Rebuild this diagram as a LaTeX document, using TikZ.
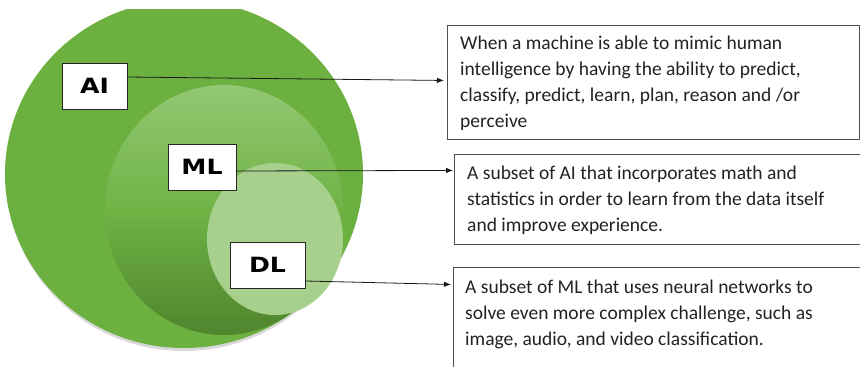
\documentclass[tikz,border=0pt]{standalone}
\usepackage{fontspec}
\setmainfont{Carlito}
\newfontfamily\tagfont{DejaVu Sans}
\usetikzlibrary{arrows.meta,calc}

\definecolor{aigreen}{HTML}{6CB140}
\definecolor{mltop}{HTML}{93C773}
\definecolor{mlbottom}{HTML}{4F842D}
\definecolor{dlgreen}{HTML}{A7D08D}
\definecolor{boxline}{HTML}{505050}
\definecolor{bodytext}{HTML}{222222}

\newcommand{\widetag}[1]{\scalebox{1.2}[1]{#1}}

\tikzset{
  tagbox/.style={draw=black!85, fill=white, line width=0.9pt, inner sep=0pt,
    minimum height=46pt, font=\tagfont\bfseries\fontsize{21pt}{24pt}\selectfont},
  descbox/.style={draw=boxline, line width=0.9pt, inner sep=0pt, anchor=north west},
  desctext/.style={anchor=north west, inner sep=0pt, align=left, text=bodytext,
    font=\fontsize{19.5pt}{26pt}\selectfont},
  pointer/.style={draw=black!90, line width=0.8pt,
    -{Latex[length=7pt,width=5.5pt]}}
}

\begin{document}
\begin{tikzpicture}[x=1pt,y=-1pt]
\useasboundingbox (0,0) rectangle (860,367);

% nested sets: AI, ML, DL
\begin{scope}
  \clip (0,9) rectangle (860,367);
  \fill[black!30, opacity=0.5] (184,177) ellipse [x radius=178, y radius=174];
  \fill[aigreen] (184,174) ellipse [x radius=179, y radius=174];
\end{scope}
\shade[top color=mltop, bottom color=mlbottom, middle color=aigreen!90!mltop]
  (224,210) ellipse [x radius=119, y radius=125];
\fill[dlgreen] (275,239) ellipse [x radius=68, y radius=76];

% labels on the sets
\node[tagbox, minimum width=65pt] (ai) at (94.5,86) {\widetag{AI}};
\node[tagbox, minimum width=68pt] (ml) at (202,167) {\widetag{ML}};
\node[tagbox, minimum width=75pt] (dl) at (267.5,265) {\widetag{DL}};

% description boxes
\node[descbox, minimum width=412pt, minimum height=114pt] (d1) at (447,25) {};
\node[descbox, minimum width=410pt, minimum height=90pt] (d2) at (454,154) {};
\node[descbox, minimum width=410pt, minimum height=110pt] (d3) at (453,267) {};

\node[desctext] (t1) at (460,36) {When a machine is able to mimic human\\
  intelligence by having the ability to predict,\\
  classify, predict, learn, plan, reason and /or\\
  perceive};
\node[desctext] (t2) at (467,166) {A subset of AI that incorporates math and\\
  statistics in order to learn from the data itself\\
  and improve experience.};
\node[desctext] (t3) at (465,280) {A subset of ML that uses neural networks to\\
  solve even more complex challenge, such as\\
  image, audio, and video classification.};

% connectors
\draw[pointer] ([yshift=9pt]ai.east) -- ([xshift=-3pt,yshift=2pt]d1.west);
\draw[pointer] ([yshift=-4pt]ml.east) -- ([xshift=-1pt,yshift=29pt]d2.west);
\draw[pointer] ([yshift=-16pt]dl.east) -- ([xshift=-2pt,yshift=38pt]d3.west);
\end{tikzpicture}
\end{document}
